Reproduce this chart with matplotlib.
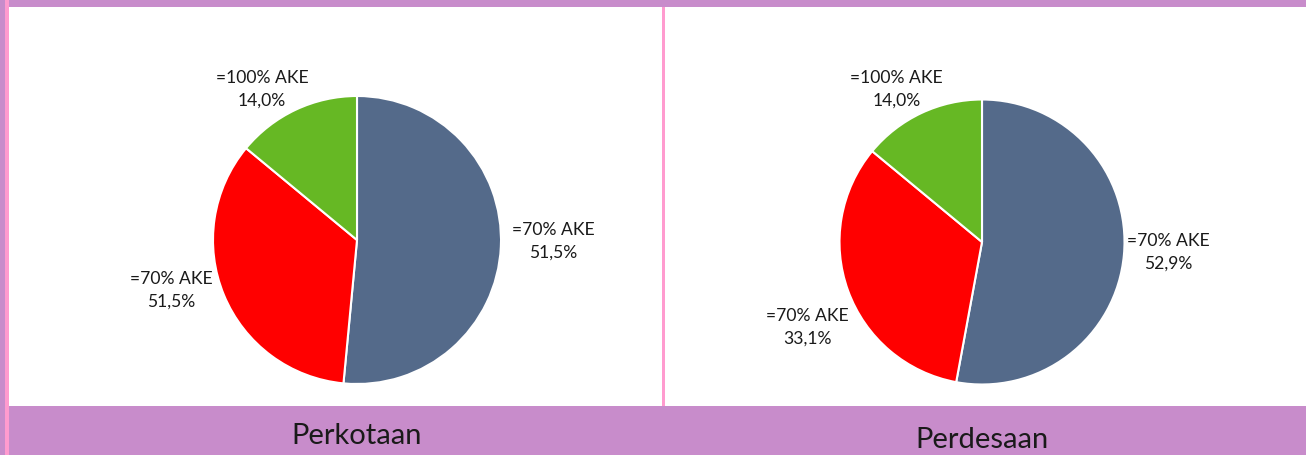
import matplotlib
matplotlib.use('Agg')
import matplotlib.pyplot as plt
from matplotlib.patches import Rectangle

# Shares of households by energy adequacy (AKE), urban vs rural
categories = ['=70% AKE', '=70% AKE', '=100% AKE']
perkotaan_share = [51.5, 34.5, 14.0]
perdesaan_share = [52.9, 33.1, 14.0]
# printed percentages on the slice labels
perkotaan_label = [51.5, 51.5, 14.0]
perdesaan_label = [52.9, 33.1, 14.0]
panel_titles = ['Perkotaan', 'Perdesaan']

COLORS = ['#546A8A', '#FF0000', '#66B824']
PURPLE = '#C88CCB'
PINK = '#FF9BCF'
FONT = 'Lato'

W, H = 1306, 456
fig = plt.figure(figsize=(W / 100, H / 100), dpi=100, facecolor='white')


def px_rect(x0, y0, x1, y1, color):
    # rectangle given in pixel coords measured from the top-left corner
    fig.patches.append(Rectangle((x0 / W, 1 - y1 / H), (x1 - x0) / W, (y1 - y0) / H,
                                 transform=fig.transFigure, facecolor=color,
                                 edgecolor='none', zorder=0))


# frame: top strip, left border, bottom title band, middle divider
px_rect(0, 0, W, 8, PURPLE)
px_rect(9, 406.5, W, H, PURPLE)
px_rect(0, 0, 5, H, PURPLE)
px_rect(5, 0, 9, H, PINK)
px_rect(662, 8, 665, 406.5, PINK)


def draw_pie(cx, cy, r, shares, printed, label_pos):
    ax = fig.add_axes([(cx - r) / W, 1 - (cy + r) / H, 2 * r / W, 2 * r / H])
    ax.pie(shares, colors=COLORS, startangle=90, counterclock=False, radius=1,
           wedgeprops=dict(edgecolor='white', linewidth=1.5))
    ax.set_xlim(-1, 1)
    ax.set_ylim(-1, 1)
    ax.set_aspect('equal')
    ax.axis('off')
    for cat, val, (lx, ly) in zip(categories, printed, label_pos):
        txt = f'{cat}\n{val:.1f}%'.replace('.', ',')
        ax.text(lx, ly, txt, ha='center', va='center', fontsize=12.6, family=FONT,
                color='#1A1A1A', linespacing=1.5, clip_on=False)
    return ax


draw_pie(357, 241, 144, perkotaan_share, perkotaan_label,
         [(1.36, 0.0), (-1.29, -0.34), (-0.66, 1.056)])
draw_pie(982, 243, 142.5, perdesaan_share, perdesaan_label,
         [(1.305, -0.063), (-1.228, -0.59), (-0.60, 1.077)])

for title, (tx, ty) in zip(panel_titles, [(357, 436), (982, 440)]):
    fig.text(tx / W, 1 - ty / H, title, ha='center', va='center', fontsize=21,
             family=FONT, color='#1A1A1A')

fig.savefig('out.png', dpi=100, facecolor='white')
